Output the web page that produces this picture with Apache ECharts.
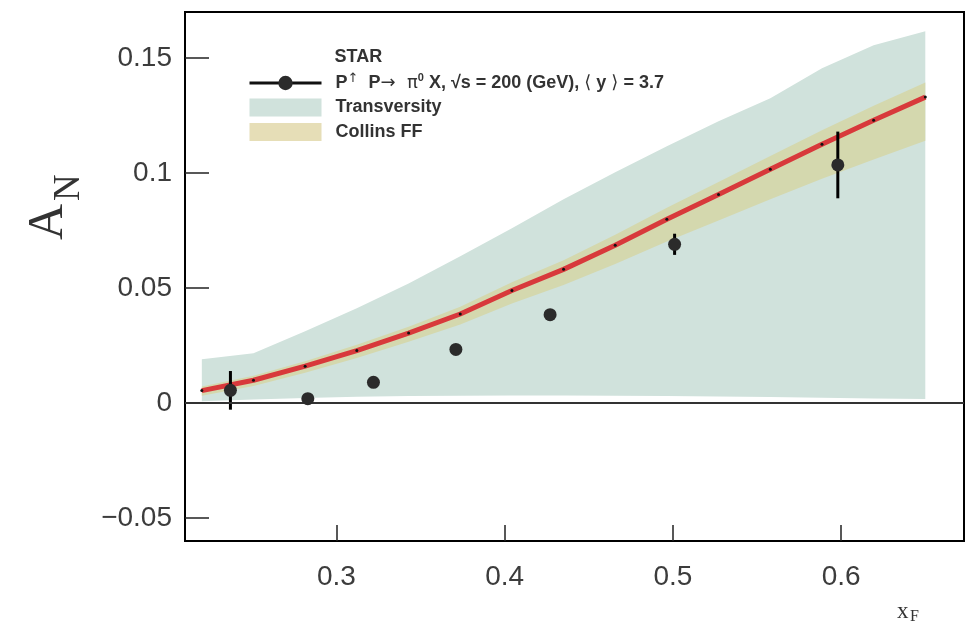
<!DOCTYPE html>
<html>
<head>
<meta charset="utf-8">
<script src="https://cdn.jsdelivr.net/npm/echarts@6/dist/echarts.min.js"></script>
<style>
  html, body { margin: 0; padding: 0; background: #ffffff; }
  #chart { width: 973px; height: 621px; }
</style>
</head>
<body>
<div id="chart"></div>
<script>
// Axis ticks
const xTicks = [0.3, 0.4, 0.5, 0.6];
const yTicks = [-0.05, 0, 0.05, 0.1, 0.15];

// STAR measurement: x_F, A_N and its uncertainty
const starX   = [0.237, 0.283, 0.322, 0.371, 0.427, 0.501, 0.598];
const starY   = [0.0055, 0.0019, 0.0090, 0.0233, 0.0384, 0.0690, 0.1035];
const starErr = [0.0084, 0.0020, 0.0020, 0.0020, 0.0020, 0.0046, 0.0145];

// Model x_F grid
const modelX = [0.2200, 0.2507, 0.2814, 0.3121, 0.3429, 0.3736, 0.4043, 0.4350,
                0.4657, 0.4964, 0.5271, 0.5579, 0.5886, 0.6193, 0.6500];

// Central prediction
const centralAN = [0.0054, 0.0099, 0.0160, 0.0228, 0.0304, 0.0387, 0.0489, 0.0581,
                   0.0686, 0.0799, 0.0907, 0.1016, 0.1125, 0.1229, 0.1330];

// Transversity uncertainty band
const transLow  = [0.0008, 0.0015, 0.0022, 0.0027, 0.0030, 0.0032, 0.0033, 0.0033,
                   0.0032, 0.0030, 0.0028, 0.0026, 0.0023, 0.0020, 0.0017];
const transHigh = [0.0190, 0.0216, 0.0312, 0.0412, 0.0520, 0.0638, 0.0760, 0.0886,
                   0.1003, 0.1116, 0.1225, 0.1325, 0.1455, 0.1555, 0.1616];

// Collins FF uncertainty band
const collinsLow  = [0.0032, 0.0074, 0.0132, 0.0196, 0.0266, 0.0341, 0.0433, 0.0513,
                     0.0604, 0.0702, 0.0794, 0.0886, 0.0975, 0.1059, 0.1140];
const collinsHigh = [0.0072, 0.0119, 0.0182, 0.0253, 0.0332, 0.0419, 0.0525, 0.0621,
                     0.0731, 0.0849, 0.0961, 0.1074, 0.1186, 0.1292, 0.1393];

const COL_TRANS = '#d0e2dc';
const COL_COLLINS = '#d4d8ae';
const COL_COLLINS_KEY = '#e6deb7';
const COL_CURVE = '#d8393b';
const COL_POINT = '#2b2b2b';
const TEXT = '#3c3c3c';

function bandSeries(name, lo, hi, color, z) {
  return {
    type: 'custom',
    name: name,
    z: z,
    silent: true,
    animation: false,
    itemStyle: { color: color },
    data: modelX.map((x, i) => [x, lo[i], hi[i]]),
    encode: { x: 0, y: [1, 2] },
    renderItem: function (params, api) {
      if (params.dataIndex !== 0) return null;
      const top = modelX.map((x, i) => api.coord([x, hi[i]]));
      const bottom = modelX.map((x, i) => api.coord([x, lo[i]])).reverse();
      return {
        type: 'polygon',
        shape: { points: top.concat(bottom) },
        style: { fill: color }
      };
    }
  };
}

const fmtTick = v => (v < 0 ? '\u2212' + String(Math.abs(v)) : String(v));

const chart = echarts.init(document.getElementById('chart'), null, { renderer: 'canvas' });

chart.setOption({
  animation: false,
  backgroundColor: '#ffffff',
  grid: {
    left: 185, right: 9, top: 12, bottom: 80,
    show: true, borderColor: '#000', borderWidth: 2, backgroundColor: 'transparent'
  },
  xAxis: {
    type: 'value',
    min: 0.21, max: 0.673,
    axisLine: { show: true, onZero: false, lineStyle: { color: '#000', width: 2 } },
    axisTick: { show: true, inside: true, length: 16, customValues: xTicks,
                lineStyle: { color: '#222', width: 1.5 } },
    axisLabel: { show: true, customValues: xTicks, margin: 22, formatter: fmtTick,
                 fontSize: 28, fontFamily: 'Liberation Sans', color: TEXT },
    splitLine: { show: false }
  },
  yAxis: {
    type: 'value',
    min: -0.06, max: 0.17,
    axisLine: { show: true, onZero: false, lineStyle: { color: '#000', width: 2 } },
    axisTick: { show: true, inside: true, length: 24, customValues: yTicks,
                lineStyle: { color: '#222', width: 1.5 } },
    axisLabel: { show: true, customValues: yTicks, margin: 13, formatter: fmtTick,
                 fontSize: 28, fontFamily: 'Liberation Sans', color: TEXT },
    splitLine: { show: false }
  },
  legend: {
    orient: 'vertical',
    left: 248, top: 72,
    padding: 0,
    itemWidth: 72, itemHeight: 18, itemGap: 6.5,
    selectedMode: false,
    textStyle: {
      padding: [0, 0, 0, 9],
      rich: {
        b: { fontSize: 18, fontWeight: 'bold', fontFamily: 'Liberation Sans', color: '#333', lineHeight: 22 },
        sup: { fontSize: 11, fontWeight: 'bold', fontFamily: 'Liberation Sans', color: '#333',
               verticalAlign: 'top', lineHeight: 14 },
        arr: { fontSize: 13, fontFamily: 'DejaVu Sans', color: '#333',
               verticalAlign: 'top', lineHeight: 14 },
        s: { fontSize: 18, fontFamily: 'DejaVu Sans', color: '#333', lineHeight: 22 }
      }
    },
    formatter: function (name) {
      if (name === 'STAR') {
        return '{b|P}{arr|\u2191}{b|  P}{s|\u2192  \u03c0}{sup|0}{b| X, \u221as = 200 (GeV), }{s|\u27e8}{b| y }{s|\u27e9}{b| = 3.7}';
      }
      return '{b|' + name + '}';
    },
    data: [
      { name: 'STAR',
        itemStyle: { color: COL_POINT },
        lineStyle: { color: '#111', width: 3, opacity: 1, type: 'solid' } },
      { name: 'Transversity', icon: 'rect', itemStyle: { color: COL_TRANS } },
      { name: 'Collins FF', icon: 'rect', itemStyle: { color: COL_COLLINS_KEY } }
    ]
  },
  graphic: [
    { type: 'text', x: 334.5, y: 57.5,
      style: { text: 'STAR', font: 'bold 18px "Liberation Sans"', fill: '#333',
               align: 'left', verticalAlign: 'middle' } },
    { type: 'text', x: 49, y: 240, rotation: Math.PI / 2,
      style: { text: 'A', font: '50px "Liberation Serif"', fill: '#333',
               align: 'left', verticalAlign: 'middle' } },
    { type: 'text', x: 69.5, y: 201, rotation: Math.PI / 2,
      style: { text: 'N', font: '37px "Liberation Serif"', fill: '#333',
               align: 'left', verticalAlign: 'middle' } },
    { type: 'text', x: 897, y: 611.5,
      style: { text: 'x', font: '23px "Liberation Serif"', fill: '#333',
               align: 'left', verticalAlign: 'middle' } },
    { type: 'text', x: 910, y: 617,
      style: { text: 'F', font: '16px "Liberation Serif"', fill: '#333',
               align: 'left', verticalAlign: 'middle' } }
  ],
  series: [
    bandSeries('Transversity', transLow, transHigh, COL_TRANS, 1),
    bandSeries('Collins FF', collinsLow, collinsHigh, COL_COLLINS, 2),
    {
      type: 'line',
      name: 'central',
      z: 3,
      data: modelX.map((x, i) => [x, centralAN[i]]),
      showSymbol: true,
      symbol: 'circle',
      symbolSize: 3,
      itemStyle: { color: '#111' },
      lineStyle: { color: COL_CURVE, width: 5 },
      silent: true,
      markLine: {
        silent: true,
        symbol: ['none', 'none'],
        label: { show: false },
        lineStyle: { color: '#333', width: 2, type: 'solid' },
        data: [{ yAxis: 0 }]
      }
    },
    {
      type: 'custom',
      name: 'STAR errors',
      z: 4,
      silent: true,
      data: starX.map((x, i) => [x, starY[i] - starErr[i], starY[i] + starErr[i]]),
      encode: { x: 0, y: [1, 2] },
      renderItem: function (params, api) {
        const a = api.coord([api.value(0), api.value(1)]);
        const b = api.coord([api.value(0), api.value(2)]);
        return {
          type: 'line',
          shape: { x1: a[0], y1: a[1], x2: b[0], y2: b[1] },
          style: { stroke: '#000', lineWidth: 3 }
        };
      }
    },
    {
      type: 'line',
      name: 'STAR',
      z: 5,
      data: starX.map((x, i) => [x, starY[i]]),
      showSymbol: true,
      symbol: 'circle',
      symbolSize: 13,
      itemStyle: { color: COL_POINT },
      lineStyle: { width: 0, opacity: 0 },
      silent: true
    }
  ]
});
</script>
</body>
</html>
